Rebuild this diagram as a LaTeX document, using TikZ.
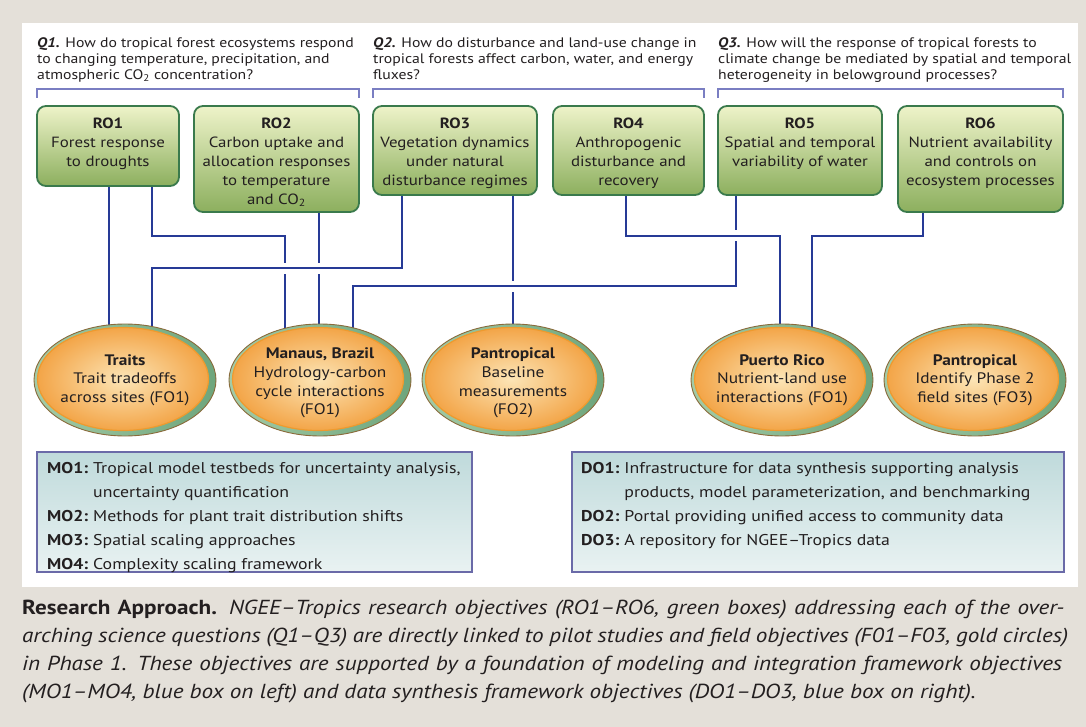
\documentclass[tikz,border=0pt]{standalone}
\usepackage{fontspec}
\setmainfont{PT Sans}[FakeStretch=1.14]
\usetikzlibrary{shapes.geometric,calc}
\pgfdeclarelayer{bgl}
\pgfdeclarelayer{connl}
\pgfsetlayers{bgl,connl,main}
\definecolor{bggray}{HTML}{E4E0D9}
\definecolor{txt}{HTML}{231F20}
\definecolor{connblue}{HTML}{263A96}
\definecolor{brk}{HTML}{7A7EC2}
\definecolor{roborder}{HTML}{3A7A4C}
\definecolor{rotop}{HTML}{EEF3C9}
\definecolor{romid}{HTML}{E0E9B6}
\definecolor{robot}{HTML}{8CAF5E}
\definecolor{ellout}{HTML}{8A6A3A}
\definecolor{rimL}{HTML}{A3CBA6}
\definecolor{rimR}{HTML}{6EA57C}
\definecolor{ellring}{HTML}{EE9A2E}
\definecolor{ellin}{HTML}{FCE5B6}
\definecolor{ellouter}{HTML}{F3A548}
\definecolor{moborder}{HTML}{6A6AA8}
\definecolor{motop}{HTML}{BFDADB}
\definecolor{mobot}{HTML}{E9F2F2}
\begin{document}
\begin{tikzpicture}[x=1pt,y=-1pt,
  qtext/.style={anchor=north west, inner sep=0, align=left, text=txt, font=\fontsize{13.8}{16}\selectfont},
  robox/.style={draw=roborder, line width=1.8, rounded corners=9, top color=rotop, middle color=romid, bottom color=robot, inner sep=0},
  rotext/.style={anchor=north, inner sep=0, align=center, text=txt, font=\fontsize{14.8}{19}\selectfont},
  ellnode/.style={ellipse, minimum width=182, minimum height=112, inner sep=0, draw=ellout, line width=0.9, left color=rimL, right color=rimR},
  elltext/.style={inner sep=0, align=center, text=txt, font=\fontsize{15.2}{18.7}\selectfont},
  inell/.style={draw=ellring, line width=1.2, inner color=ellin, outer color=ellouter},
  conn/.style={draw=connblue, line width=2.8},
  casing/.style={preaction={draw=white, line width=11}},
  bracket/.style={draw=brk, line width=1.1},
  obox/.style={draw=moborder, line width=1.4, top color=motop, bottom color=mobot, inner sep=0, minimum height=120},
  otext/.style={anchor=north west, inner sep=0, text=txt, font=\fontsize{15.6}{24}\selectfont}
]
\useasboundingbox (0,0) rectangle (1086,727);
\begin{pgfonlayer}{bgl}
  \fill[bggray] (0,0) rectangle (1086,727);
  \fill[white] (22,23) rectangle (1078,587);
\end{pgfonlayer}

% questions
\node[qtext] (q1) at (37,37) {\textbf{\textit{Q1.}} How do tropical forest ecosystems respond\\to changing temperature, precipitation, and\\atmospheric CO\textsubscript{2} concentration?};
\node[qtext] (q2) at (373,37) {\textbf{\textit{Q2.}} How do disturbance and land-use change in\\tropical forests affect carbon, water, and energy\\fluxes?};
\node[qtext] (q3) at (718,37) {\textbf{\textit{Q3.}} How will the response of tropical forests to\\climate change be mediated by spatial and temporal\\heterogeneity in belowground processes?};

% brackets
\draw[bracket] (37,98) -- (37,89) -- (359,89) -- (359,98);
\draw[bracket] (373,98) -- (373,89) -- (704,89) -- (704,98);
\draw[bracket] (718,98) -- (718,89) -- (1063,89) -- (1063,98);

% RO boxes
\node[robox, minimum width=142, minimum height=80] (ro1) at (108,146) {};
\node[robox, minimum width=165, minimum height=106] (ro2) at (276.5,159) {};
\node[robox, minimum width=164, minimum height=89] (ro3) at (455,150.5) {};
\node[robox, minimum width=151, minimum height=89] (ro4) at (628.5,150.5) {};
\node[robox, minimum width=164, minimum height=89] (ro5) at (800,150.5) {};
\node[robox, minimum width=165, minimum height=106] (ro6) at (980.5,159) {};
\node[rotext] (ro1t) at (108,117.5) {\textbf{RO1}\\Forest response\\to droughts};
\node[rotext] (ro2t) at (276.5,117.5) {\textbf{RO2}\\Carbon uptake and\\allocation responses\\to temperature\\and CO\textsubscript{2}};
\node[rotext] (ro3t) at (455,117.5) {\textbf{RO3}\\Vegetation dynamics\\under natural\\disturbance regimes};
\node[rotext] (ro4t) at (628.5,117.5) {\textbf{RO4}\\Anthropogenic\\disturbance and\\recovery};
\node[rotext] (ro5t) at (800,117.5) {\textbf{RO5}\\Spatial and temporal\\variability of water};
\node[rotext] (ro6t) at (980.5,117.5) {\textbf{RO6}\\Nutrient availability\\and controls on\\ecosystem processes};

% ellipses
\foreach \n/\cx in {traits/125, manaus/320, pant/513, pr/782, pantb/975}{
  \node[ellnode] (\n) at (\cx,380) {};
  \path[inell] ($(\n.center)+(-2,-1)$) ellipse (85.5 and 51.5);
}
\node[elltext] (traitst) at (125,380) {\textbf{Traits}\\Trait tradeoffs\\across sites (FO1)};
\node[elltext] (manaust) at (320,383) {\textbf{Manaus, Brazil}\\Hydrology-carbon\\cycle interactions\\(FO1)};
\node[elltext] (pantt) at (513,383) {\textbf{Pantropical}\\Baseline\\measurements\\(FO2)};
\node[elltext] (prt) at (782,380) {\textbf{Puerto Rico}\\Nutrient-land use\\interactions (FO1)};
\node[elltext] (pantbt) at (975,380) {\textbf{Pantropical}\\Identify Phase 2\\field sites (FO3)};

% connectors
\begin{pgfonlayer}{connl}
  \draw[conn] (109,0 |- ro1.center) -- (109,0 |- traits.center);
  \draw[conn] (152,0 |- ro1.center) |- (285,236) -- (285,0 |- manaus.center);
  \draw[conn] (319,0 |- ro2.center) -- (319,0 |- manaus.center);
  \draw[conn] (513,0 |- ro3.center) -- (513,0 |- pant.center);
  \draw[conn] (923,0 |- ro6.center) |- (812,236) -- (812,0 |- pr.center);
  \draw[conn,casing] (402,0 |- ro3.center) |- (152,268) -- (152,0 |- traits.center);
  \draw[conn,casing] (736,0 |- ro5.center) |- (353,286) -- (353,0 |- manaus.center);
  \draw[conn,casing] (626,0 |- ro4.center) |- (780,236) -- (780,0 |- pr.center);
\end{pgfonlayer}

% framework boxes
\node[obox, minimum width=435] (mo) at (254.5,512) {};
\node[obox, minimum width=492] (do) at (818,512) {};
\node[otext] (mot) at (47,456) {\begin{tabular}{@{}l@{\hspace{5pt}}l@{}}
\textbf{MO1:} & Tropical model testbeds for uncertainty analysis,\\
 & uncertainty quantification\\
\textbf{MO2:} & Methods for plant trait distribution shifts\\
\textbf{MO3:} & Spatial scaling approaches\\
\textbf{MO4:} & Complexity scaling framework
\end{tabular}};
\node[otext] (dot) at (581,456) {\begin{tabular}{@{}l@{\hspace{5pt}}l@{}}
\textbf{DO1:} & Infrastructure for data synthesis supporting analysis\\
 & products, model parameterization, and benchmarking\\
\textbf{DO2:} & Portal providing unified access to community data\\
\textbf{DO3:} & A repository for NGEE–Tropics data
\end{tabular}};

% caption
\node[anchor=north west, inner sep=0, align=left, text=txt, font=\fontsize{20.3}{28}\selectfont] (cap) at (22,600)
{\makebox[1042pt][s]{\textbf{Research Approach.} \itshape NGEE–Tropics research objectives (RO1–RO6, green boxes) addressing each of the over-}\\
\makebox[1046pt][s]{\itshape arching science questions (Q1–Q3) are directly linked to pilot studies and field objectives (F01–F03, gold circles)}\\
\makebox[1040pt][s]{\itshape in Phase~1. These objectives are supported by a foundation of modeling and integration framework objectives}\\
{\itshape (MO1–MO4, blue box on left) and data synthesis framework objectives (DO1–DO3, blue box on right).}};
\end{tikzpicture}
\end{document}
